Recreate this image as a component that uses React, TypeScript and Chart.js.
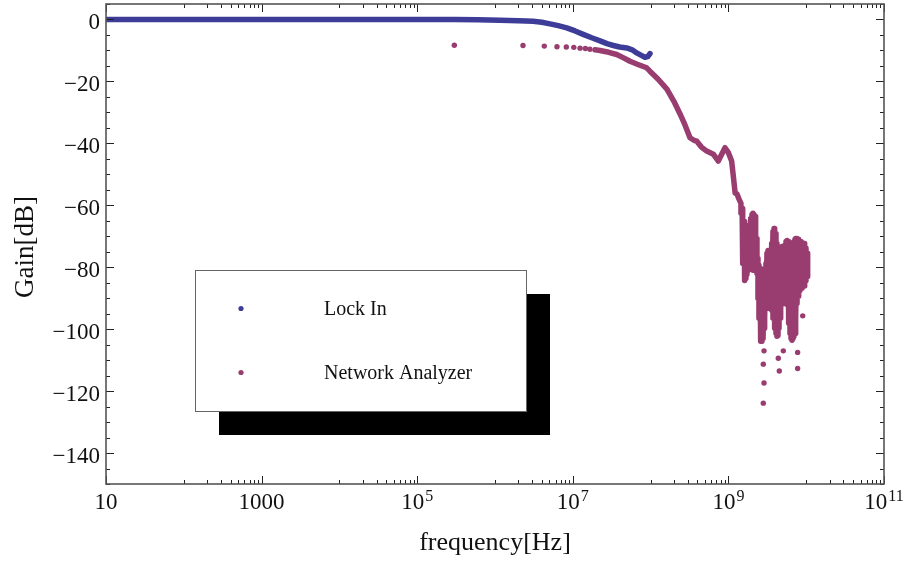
import React, { useEffect, useRef } from 'react';
import { Chart, registerables } from 'chart.js';

Chart.register(...registerables);

const FONT = '"Liberation Serif", "Times New Roman", serif';
const LOCK_COLOR = '#3d3d99';
const NA_COLOR = '#993d70';

// Lock-in amplifier sweep: frequency [Hz] and gain [dB]
const lockInFreq = [10, 30, 100, 300, 1e3, 3e3, 1e4, 3e4, 1e5, 3e5, 6e5, 1.16e6, 2.0e6, 3.08e6, 4.0e6, 5.09e6, 6.5e6, 8.35e6, 1.07e7, 1.36e7, 1.75e7, 2.24e7, 2.75e7, 3.32e7, 4.0e7, 4.93e7, 5.8e7, 6.63e7, 7.6e7, 8.47e7, 9.2e7, 9.82e7];
const lockInGain = [0, 0, 0, 0, 0, 0, 0, 0, 0, 0, -0.1, -0.23, -0.38, -0.55, -0.9, -1.42, -2.0, -2.7, -3.7, -4.8, -5.9, -6.9, -7.8, -8.4, -8.9, -9.2, -9.8, -10.8, -11.6, -12.2, -12.0, -11.0];

// Network analyzer: isolated readings at the low end of its range
const naSparseFreq = [3.0e5, 2.29e6, 4.3e6, 6.26e6, 8.25e6, 1.03e7, 1.24e7, 1.45e7, 1.66e7];
const naSparseGain = [-8.3, -8.4, -8.6, -8.8, -8.9, -9.0, -9.26, -9.36, -9.6];

// Network analyzer: densely sampled sweep up to the resonance region
const naTraceFreq = [
  1.93e7, 2.24e7, 2.9e7, 3.67e7, 4.5e7, 5.43e7, 7.0e7, 8.9e7, 9.8e7, 1.25e8, 1.62e8, 2.0e8, 2.39e8, 2.75e8,
  3.21e8, 3.6e8, 3.92e8, 4.5e8, 5.26e8, 6.4e8, 7.42e8, 8.2e8, 9.04e8, 1.0e9, 1.1e9, 1.15e9, 1.22e9,
  1.29e9, 1.37e9,
];
const naTraceGain = [
  -9.8, -10.0, -10.6, -11.3, -12.4, -13.5, -14.6, -15.6, -16.7, -19.3, -22.5, -26.5, -30.5, -33.9,
  -38.2, -39.0, -39.3, -41.2, -42.5, -43.5, -45.7, -43.5, -41.4, -43.0, -45.7, -50.0, -56.0,
  -56.4, -58.0,
];

// Network analyzer above 1.4 GHz: per-frequency maximum and minimum readings
const naBandFreq = [
  1.45e9, 1.50e9, 1.54e9, 1.59e9, 1.63e9, 1.68e9, 1.73e9, 1.79e9, 1.84e9, 1.90e9, 1.95e9, 2.01e9,
  2.07e9, 2.13e9, 2.20e9, 2.26e9, 2.33e9, 2.40e9, 2.47e9, 2.55e9, 2.62e9, 2.70e9, 2.79e9, 2.87e9,
  2.95e9, 3.04e9, 3.13e9, 3.23e9, 3.33e9, 3.43e9, 3.53e9, 3.63e9, 3.74e9, 3.86e9, 3.97e9, 4.09e9,
  4.21e9, 4.34e9, 4.47e9, 4.61e9, 4.74e9, 4.89e9, 5.03e9, 5.19e9, 5.34e9, 5.50e9, 5.67e9, 5.84e9,
  6.01e9, 6.19e9, 6.38e9, 6.57e9, 6.77e9, 6.97e9, 7.18e9, 7.39e9, 7.62e9, 7.85e9, 8.08e9, 8.32e9,
  8.57e9, 8.83e9, 9.10e9, 9.37e9, 9.65e9, 9.94e9, 1.024e10, 1.054e10,
];
const naBandMax = [
  -59.4, -61.0, -63.3, -65.2, -66.5, -66.5, -66.5, -67.2, -67.8, -66.5, -64.3, -63.0,
  -62.6, -63.0, -63.6, -65.9, -70.7, -77.2, -79.4, -80.4, -80.4, -80.7, -81.0, -81.4,
  -80.7, -78.8, -75.5, -74.6, -74.9, -76.2, -75.5, -72.3, -68.5, -67.5, -67.8, -69.1,
  -72.3, -75.5, -76.5, -75.5, -73.9, -73.3, -73.6, -74.3, -73.0, -71.7, -71.4, -71.7,
  -72.3, -74.9, -77.5, -76.2, -73.9, -71.7, -71.0, -70.7, -70.7, -71.0, -71.4, -71.7,
  -71.7, -72.3, -72.3, -72.3, -73.0, -73.9, -75.5, -78.1,
];
const naBandMin = [
  -62.6, -70.7, -78.8, -83.0, -84.3, -83.6, -82.3, -81.0, -80.4, -80.4, -80.4, -80.7,
  -81.0, -81.0, -80.7, -80.4, -82.0, -90.1, -96.5, -101.4, -103.9, -103.9, -103.0, -99.7,
  -95.9, -93.3, -92.0, -91.7, -92.6, -93.3, -92.6, -93.9, -96.5, -98.1, -99.7, -101.4,
  -102.3, -102.0, -99.7, -96.5, -93.9, -91.7, -90.1, -90.7, -91.7, -91.7, -92.0, -93.9,
  -98.1, -101.4, -103.0, -103.6, -103.0, -102.3, -101.4, -96.5, -91.7, -89.4, -88.4, -87.5,
  -86.8, -86.8, -86.1, -86.1, -85.2, -84.3, -83.0, -80.4,
];

// Network analyzer: scattered readings in the deep notches
const naNotchFreq = [2.87e9, 5.08e9, 4.38e9, 2.81e9, 4.51e9, 7.76e9, 7.76e9, 2.87e9, 2.81e9, 9.02e9];
const naNotchGain = [-107.0, -107.0, -109.4, -111.3, -113.5, -107.5, -112.7, -117.4, -123.9, -95.7];

// Axis ranges and labelled ticks
const xRange = [10, 1e11];
const yRange = [-150, 5];
const xTickValues = [1e1, 1e3, 1e5, 1e7, 1e9, 1e11];
const xTickBase = ['10', '1000', '10', '10', '10', '10'];
const xTickExp = ['', '', '5', '7', '9', '11'];
const yTickValues = [0, -20, -40, -60, -80, -100, -120, -140];
const yTickLabels = ['0', '\u221220', '\u221240', '\u221260', '\u221280', '\u2212100', '\u2212120', '\u2212140'];

const seriesNames = ['Lock In', 'Network Analyzer'];

const toPoints = (xs: number[], ys: number[]) => xs.map((x, i) => ({ x, y: ys[i] }));

// sweep followed by the max/min readings of each band frequency, in order
const naSweepPoints = () => {
  const pts = toPoints(naTraceFreq, naTraceGain);
  naBandFreq.forEach((f, i) => {
    pts.push({ x: f, y: naBandMax[i] });
    pts.push({ x: f, y: naBandMin[i] });
  });
  return pts;
};

const framePlugin = {
  id: 'mmaFrame',
  afterDraw(chart: any) {
    const { ctx, chartArea: a } = chart;
    const xs = chart.scales.x;
    const ys = chart.scales.y;
    ctx.save();

    // minor tick positions
    const xMinor: number[] = [];
    for (let d = 2; d <= 10; d += 2) {
      for (let k = 1; k <= 9; k++) xMinor.push(k * Math.pow(10, d));
    }
    const yMinor: number[] = [];
    for (let v = -150; v <= 5; v += 5) if (v % 20 !== 0) yMinor.push(v);

    ctx.strokeStyle = '#222';
    ctx.lineWidth = 1;
    ctx.beginPath();
    const major = 8;
    const minor = 4;
    const hTick = (v: number, len: number) => {
      const px = Math.round(xs.getPixelForValue(v)) + 0.5;
      ctx.moveTo(px, a.bottom); ctx.lineTo(px, a.bottom - len);
      ctx.moveTo(px, a.top); ctx.lineTo(px, a.top + len);
    };
    const vTick = (v: number, len: number) => {
      const py = Math.round(ys.getPixelForValue(v)) + 0.5;
      ctx.moveTo(a.left, py); ctx.lineTo(a.left + len, py);
      ctx.moveTo(a.right, py); ctx.lineTo(a.right - len, py);
    };
    xTickValues.forEach((v) => hTick(v, major));
    xMinor.forEach((v) => hTick(v, minor));
    yTickValues.forEach((v) => vTick(v, major));
    yMinor.forEach((v) => vTick(v, minor));
    ctx.stroke();

    // frame
    ctx.strokeStyle = '#555';
    ctx.lineWidth = 1.6;
    ctx.strokeRect(a.left, a.top, a.right - a.left, a.bottom - a.top);

    // tick labels
    ctx.fillStyle = '#111';
    ctx.textBaseline = 'alphabetic';
    const baseFont = `23px ${FONT}`;
    const expFont = `16px ${FONT}`;
    xTickValues.forEach((v, i) => {
      const px = xs.getPixelForValue(v);
      ctx.font = baseFont;
      const bw = ctx.measureText(xTickBase[i]).width;
      ctx.font = expFont;
      const ew = xTickExp[i] ? ctx.measureText(xTickExp[i]).width + 1 : 0;
      const start = px - (bw + ew) / 2;
      const base = a.bottom + 25;
      ctx.textAlign = 'left';
      ctx.font = baseFont;
      ctx.fillText(xTickBase[i], start, base);
      if (xTickExp[i]) {
        ctx.font = expFont;
        ctx.fillText(xTickExp[i], start + bw + 1, base - 8);
      }
    });
    ctx.font = baseFont;
    ctx.textAlign = 'right';
    yTickValues.forEach((v, i) => {
      const py = ys.getPixelForValue(v);
      ctx.fillText(yTickLabels[i], a.left - 6, py + 9.5);
    });

    // axis titles
    ctx.font = `26px ${FONT}`;
    ctx.textAlign = 'center';
    ctx.fillText('frequency[Hz]', (a.left + a.right) / 2, a.bottom + 66);
    ctx.save();
    ctx.translate(33, (a.top + a.bottom) / 2 + 3);
    ctx.rotate(-Math.PI / 2);
    ctx.font = `27px ${FONT}`;
    ctx.fillText('Gain[dB]', 0, 0);
    ctx.restore();

    // legend panel with drop shadow
    const lx = a.left + 89;
    const ly = a.top + 266;
    const lw = 331;
    const lh = 141;
    ctx.fillStyle = '#000';
    ctx.fillRect(lx + 24, ly + 24, lw, lh);
    ctx.fillStyle = '#fff';
    ctx.fillRect(lx, ly, lw, lh);
    ctx.strokeStyle = '#666';
    ctx.lineWidth = 1;
    ctx.strokeRect(lx + 0.5, ly + 0.5, lw, lh);
    const colors = [LOCK_COLOR, NA_COLOR];
    ctx.font = `20px ${FONT}`;
    ctx.textAlign = 'left';
    seriesNames.forEach((name, i) => {
      const cy = ly + 38.5 + i * 64;
      ctx.fillStyle = colors[i];
      ctx.beginPath();
      ctx.arc(lx + 46, cy, 2.6, 0, Math.PI * 2);
      ctx.fill();
      ctx.fillStyle = '#111';
      ctx.fillText(name, lx + 129, cy + 6.5);
    });
    ctx.restore();
  },
};

export default function App() {
  const canvasRef = useRef<HTMLCanvasElement | null>(null);

  useEffect(() => {
    if (!canvasRef.current) return;
    const chart = new Chart(canvasRef.current, {
      type: 'scatter',
      data: {
        datasets: [
          {
            label: seriesNames[1],
            data: naSweepPoints(),
            showLine: true,
            borderColor: NA_COLOR,
            borderWidth: 5.5,
            borderJoinStyle: 'round',
            borderCapStyle: 'round',
            pointRadius: 0,
            tension: 0,
          },
          {
            label: seriesNames[1] + ' (isolated)',
            data: toPoints(naSparseFreq, naSparseGain).concat(toPoints(naNotchFreq, naNotchGain)),
            showLine: false,
            backgroundColor: NA_COLOR,
            borderWidth: 0,
            pointRadius: 2.7,
          },
          {
            label: seriesNames[0],
            data: toPoints(lockInFreq, lockInGain),
            showLine: true,
            borderColor: LOCK_COLOR,
            borderWidth: 5.5,
            borderJoinStyle: 'round',
            borderCapStyle: 'round',
            pointRadius: 0,
            tension: 0,
          },
        ],
      },
      options: {
        responsive: false,
        animation: false,
        devicePixelRatio: 1,
        layout: { padding: { left: 106, top: 3, right: 20, bottom: 77 } },
        plugins: { legend: { display: false }, tooltip: { enabled: false } },
        scales: {
          x: { type: 'logarithmic', min: xRange[0], max: xRange[1], display: false },
          y: { type: 'linear', min: yRange[0], max: yRange[1], display: false },
        },
      },
      plugins: [framePlugin],
    });
    return () => chart.destroy();
  }, []);

  return (
    <div style={{ position: 'fixed', left: 0, top: 0, width: 904, height: 561, background: '#fff' }}>
      <canvas ref={canvasRef} width={904} height={561} />
    </div>
  );
}
